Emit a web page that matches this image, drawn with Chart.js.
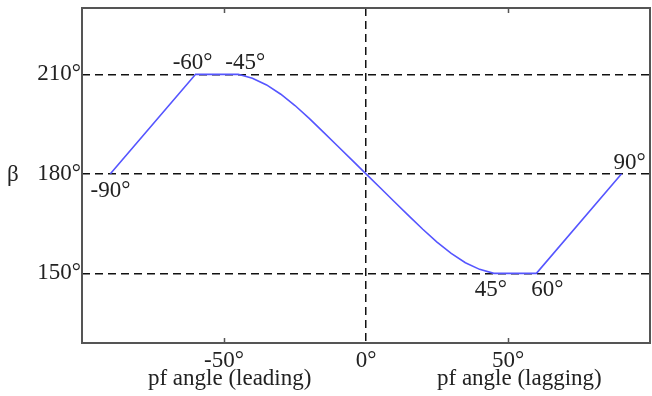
<!DOCTYPE html>
<html>
<head>
<meta charset="utf-8">
<script src="https://cdn.jsdelivr.net/npm/chart.js@4/dist/chart.umd.min.js"></script>
<style>
  html, body { margin: 0; padding: 0; background: #fff; }
  #wrap { width: 652px; height: 396px; position: relative; }
</style>
</head>
<body>
<div id="wrap"><canvas id="c" width="652" height="396"></canvas></div>
<script>
// pf angle (degrees) and beta (degrees)
const pfAngle = [-90, -60, -45, -40, -35, -30, -25, -20, -15, -10, -5, 0, 5, 10, 15, 20, 25, 30, 35, 40, 45, 60, 90];
const betaValues = [180, 210, 210, 208.8, 206.8, 204, 200.6, 196.7, 192.6, 188.4, 184.2, 180, 175.8, 171.6, 167.4, 163.3, 159.4, 156, 153.2, 151.2, 150, 150, 180];
const yTickValues = [150, 180, 210];
const xTickValues = [-50, 0, 50];
// annotated break points
const noteText = ['-90°', '-60°', '-45°', '45°', '60°', '90°'];
const noteX = [-90, -60, -45, 45, 60, 90];
const noteY = [180, 210, 210, 150, 150, 180];
const noteSide = ['below', 'above', 'above', 'below', 'below', 'above'];
const axisTitles = ['pf angle (leading)', 'pf angle (lagging)'];
const axisTitleX = [-48, 54];
const yTitle = 'β';

const FONT = "'Liberation Serif', 'Times New Roman', serif";
const TXT = '#222';
const FS = 23;
const noteDx = [0, -3, 7, -3, 11, 8];

const decor = {
  id: 'decor',
  afterDraw(chart) {
    const ctx = chart.ctx;
    const a = chart.chartArea;
    const xs = chart.scales.x, ys = chart.scales.y;
    ctx.save();
    // frame
    ctx.strokeStyle = '#555';
    ctx.lineWidth = 2;
    ctx.setLineDash([]);
    ctx.strokeRect(a.left, a.top, a.right - a.left, a.bottom - a.top);
    // inward tick marks
    ctx.lineWidth = 1.5;
    xTickValues.forEach(v => {
      if (v === 0) return;
      const px = Math.round(xs.getPixelForValue(v)) + 0.5;
      ctx.beginPath();
      ctx.moveTo(px, a.bottom); ctx.lineTo(px, a.bottom - 5);
      ctx.moveTo(px, a.top); ctx.lineTo(px, a.top + 5);
      ctx.stroke();
    });
    // point annotations
    ctx.fillStyle = TXT;
    ctx.font = FS + 'px ' + FONT;
    ctx.textAlign = 'center';
    ctx.textBaseline = 'alphabetic';
    noteText.forEach((t, i) => {
      const px = xs.getPixelForValue(noteX[i]) + noteDx[i];
      const py = ys.getPixelForValue(noteY[i]);
      if (noteSide[i] === 'above') {
        ctx.fillText(t, px, py - 5);
      } else {
        ctx.fillText(t, px, py + 23);
      }
    });
    // axis titles
    axisTitles.forEach((t, i) => {
      ctx.fillText(t, xs.getPixelForValue(axisTitleX[i]), 385);
    });
    // beta
    ctx.textAlign = 'left';
    ctx.fillText(yTitle, 7, ys.getPixelForValue(180) + 7.5);
    ctx.restore();
  }
};

function noPad(s) {
  s.paddingTop = 0; s.paddingBottom = 0; s.paddingLeft = 0; s.paddingRight = 0;
}

new Chart(document.getElementById('c'), {
  type: 'line',
  data: {
    labels: pfAngle,
    datasets: [{
      data: pfAngle.map((x, i) => ({ x: x, y: betaValues[i] })),
      borderColor: 'rgb(85, 85, 255)',
      borderWidth: 1.6,
      pointRadius: 0,
      tension: 0,
      fill: false
    }]
  },
  options: {
    responsive: false,
    animation: false,
    devicePixelRatio: 1,
    layout: { padding: { top: 8, right: 2, left: 0, bottom: 0 } },
    plugins: { legend: { display: false }, tooltip: { enabled: false }, title: { display: false } },
    scales: {
      x: {
        type: 'linear',
        min: -100, max: 100,
        afterBuildTicks: s => { s.ticks = xTickValues.map(v => ({ value: v })); },
        afterFit: s => { s.height = 53; noPad(s); },
        ticks: {
          padding: 4,
          color: TXT,
          font: { family: FONT, size: FS },
          maxRotation: 0,
          callback: v => v + '°'
        },
        grid: {
          drawTicks: false,
          lineWidth: 1.5,
          color: c => (c.tick && c.tick.value === 0) ? '#111' : 'rgba(0,0,0,0)'
        },
        border: { display: false, dash: [8, 5] }
      },
      y: {
        type: 'linear',
        min: 129, max: 230,
        afterBuildTicks: s => { s.ticks = yTickValues.map(v => ({ value: v })); },
        afterFit: s => { s.width = 82; noPad(s); },
        ticks: {
          padding: 1,
          color: TXT,
          font: { family: FONT, size: FS },
          callback: v => v + '°'
        },
        grid: {
          drawTicks: false,
          lineWidth: 1.5,
          color: '#111'
        },
        border: { display: false, dash: [8, 5] }
      }
    }
  },
  plugins: [decor]
});
</script>
</body>
</html>
